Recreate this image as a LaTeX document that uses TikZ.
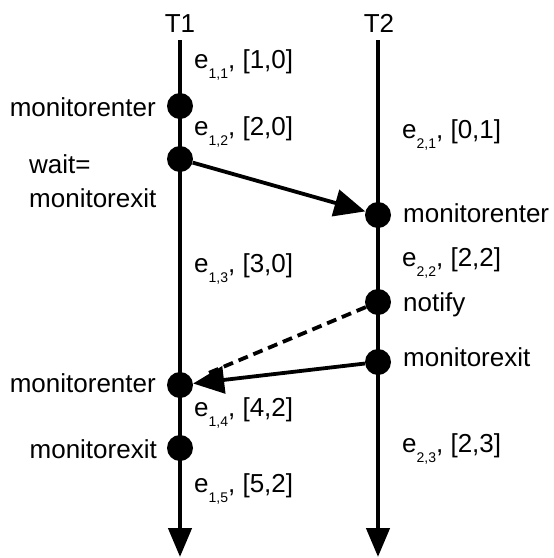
\documentclass[tikz,border=0pt]{standalone}
\usepackage{fontspec}
\setmainfont{Liberation Sans}
\usetikzlibrary{arrows.meta}
\newcommand\evlab[2]{e\raisebox{-10pt}{\fontsize{14}{14}\selectfont #1}, [#2]}
\tikzset{
  thread/.style={line width=4.5pt, -{Triangle[length=29pt,width=23pt]}},
  dot/.style={circle, fill=black, inner sep=0pt, minimum size=26pt},
  msg/.style={line width=3.8pt, -{Triangle[length=31pt,width=27pt]}},
  msgdash/.style={line width=3.8pt, dash pattern=on 10pt off 6pt, shorten >=14pt},
  lab/.style={inner sep=0pt, font=\fontsize{26}{30}\selectfont},
  labr/.style={lab, anchor=base west},
  labl/.style={lab, anchor=base east},
}
\begin{document}
\begin{tikzpicture}[x=1pt,y=-1pt]
\useasboundingbox (0,0) rectangle (554,558);
% thread headers
\node[lab, anchor=base] (h1) at (180,32) {T1};
\node[lab, anchor=base] (h2) at (379,32) {T2};
\coordinate (t1top) at (180,40);
\coordinate (t1bot) at (180,557);
\coordinate (t2top) at (378,40);
\coordinate (t2bot) at (378,557);
\draw[thread] (t1top) -- (t1bot);
\draw[thread] (t2top) -- (t2bot);
% events
\node[dot] (a1) at (180,106) {};
\node[dot] (a2) at (180,159) {};
\node[dot] (a3) at (180,385) {};
\node[dot] (a4) at (180,448) {};
\node[dot] (b1) at (378,215) {};
\node[dot] (b2) at (378,302) {};
\node[dot] (b3) at (378,362) {};
% messages
\draw[msg] (a2) -- (b1);
\draw[msgdash] (b2) -- (a3);
\draw[msg] (b3) -- (a3);
% labels T1
\node[labl] (l1) at (156,116) {monitorenter};
\node[lab, anchor=base west] (l2) at (29,173) {wait=};
\node[lab, anchor=base west] (l3) at (29,207) {monitorexit};
\node[labl] (l4) at (156,392) {monitorenter};
\node[labl] (l5) at (157,458) {monitorexit};
\node[labr] (e11) at (194,68) {\evlab{1,1}{1,0}};
\node[labr] (e12) at (194,135) {\evlab{1,2}{2,0}};
\node[labr] (e13) at (194,272) {\evlab{1,3}{3,0}};
\node[labr] (e14) at (194,416) {\evlab{1,4}{4,2}};
\node[labr] (e15) at (194,492) {\evlab{1,5}{5,2}};
% labels T2
\node[labr] (r1) at (403,222) {monitorenter};
\node[labr] (r2) at (403,311) {notify};
\node[labr] (r3) at (403,366) {monitorexit};
\node[labr] (e21) at (402,138) {\evlab{2,1}{0,1}};
\node[labr] (e22) at (402,266) {\evlab{2,2}{2,2}};
\node[labr] (e23) at (402,452) {\evlab{2,3}{2,3}};
\end{tikzpicture}
\end{document}
